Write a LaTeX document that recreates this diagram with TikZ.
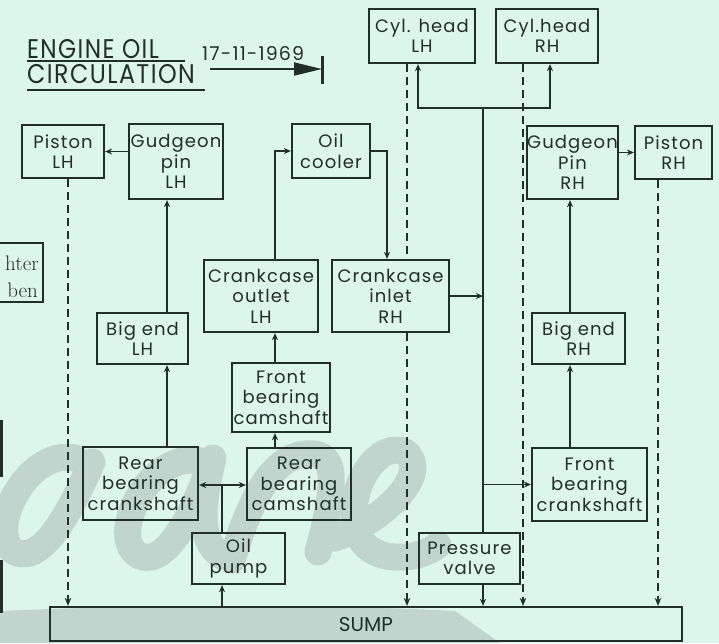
\documentclass[tikz,border=0pt]{standalone}
\usepackage{fontspec}
\usepackage{graphicx}
\setmainfont{Poppins}[LetterSpace=6]
\newfontfamily\serifpart{Latin Modern Roman}
\usetikzlibrary{arrows.meta}
\definecolor{bg}{RGB}{221,246,235}
\definecolor{ink}{RGB}{34,46,41}
\definecolor{wm}{RGB}{193,213,206}
\tikzset{
  box/.style={draw=ink, line width=2.2pt, text=ink, align=center, inner sep=0pt,
    font=\fontsize{18}{20.5}\selectfont},
  conn/.style={draw=ink, line width=1.8pt},
  arr/.style={conn, -{Stealth[length=7pt,width=6pt]}},
  dashline/.style={draw=ink, line width=2.5pt, dash pattern=on 8pt off 5pt},
  dasharr/.style={dashline, -{Stealth[length=8pt,width=6.5pt]}},
  wmstroke/.style={draw=wm, line width=27pt, line cap=round, line join=round},
}
\begin{document}
\begin{tikzpicture}[x=1pt,y=-1pt]
\useasboundingbox (0,0) rectangle (719,643);
\fill[bg] (0,0) rectangle (719,643);

% watermark (grey brush lettering behind the drawing)
\fill[wm] (0,611) .. controls (150,604) and (350,605) .. (455,611) -- (500,643) -- (0,643) -- cycle;
\draw[wmstroke] (75,458) .. controls (25,448) and (-15,535) .. (15,552) .. controls (45,566) and (75,500) .. (92,462);
\draw[wmstroke] (205,462) .. controls (150,445) and (105,540) .. (140,556) .. controls (170,568) and (198,500) .. (213,458) .. controls (203,500) and (196,540) .. (222,556);
\draw[wmstroke] (232,560) .. controls (250,500) and (270,462) .. (300,455) .. controls (335,448) and (340,470) .. (318,552);
\draw[wmstroke] (335,538) .. controls (385,520) and (432,472) .. (405,452) .. controls (375,438) and (340,500) .. (360,538) .. controls (375,565) and (420,560) .. (438,545);

% helper coordinates for connector columns
\coordinate (cL) at (167,0);
\coordinate (cM) at (275,0);
\coordinate (cJ) at (222,485);
\coordinate (cI) at (387,0);
\coordinate (cMain) at (483,0);
\coordinate (cTop) at (483,108);
\coordinate (cHL) at (418,0);
\coordinate (cHR) at (550,0);
\coordinate (cR) at (570,0);
\coordinate (dPL) at (68,0);
\coordinate (dCL) at (407,0);
\coordinate (dCR) at (523,0);
\coordinate (dPR) at (658,0);

% title
\node[anchor=base west, text=ink, inner sep=0pt] (title1) at (27,58)
  {\scalebox{0.86}[1]{\fontsize{27}{27}\selectfont ENGINE OIL}};
\node[anchor=base west, text=ink, inner sep=0pt] (title2) at (27,83)
  {\scalebox{0.88}[1]{\fontsize{27}{27}\selectfont CIRCULATION}};
\draw[ink, line width=2.4pt] (title1.south west |- 0,61) -- (185,61);
\draw[ink, line width=2.4pt] (title2.south west |- 0,90) -- (205,90);
\node[anchor=base west, text=ink, inner sep=0pt] (date) at (202,60)
  {\fontsize{19}{19}\selectfont 17-11-1969};
\coordinate (da) at (210,69);
\coordinate (db) at (322,69);
\draw[ink, line width=1.8pt, -{Triangle[length=28pt,width=13pt]}] (da) -- (db);
\draw[ink, line width=3pt] (db |- 0,56) -- (db |- 0,84);

% partial box at left edge
\node[draw=ink, line width=2.2pt, minimum width=80pt, minimum height=59pt, inner sep=0pt] (lbox) at (3,272.5) {};
\node[anchor=base east, text=ink, inner sep=0pt, font=\serifpart\fontsize{21}{21}\selectfont] (lt1) at (39,270) {hter};
\node[anchor=base east, text=ink, inner sep=0pt, font=\serifpart\fontsize{21}{21}\selectfont] (lt2) at (38,297) {ben};
\coordinate (eb1) at (1,420);
\coordinate (eb2) at (1,477);
\coordinate (eb3) at (1,560);
\coordinate (eb4) at (1,613);
\draw[ink, line width=3pt] (eb1) -- (eb2);
\draw[ink, line width=3pt] (eb3) -- (eb4);

% sump
\node[box, minimum width=632pt, minimum height=34pt, font=\fontsize{20}{20}\selectfont\addfontfeatures{LetterSpace=0}] (sump) at (366,624) {SUMP};

% boxes
\node[box, minimum width=82pt, minimum height=53pt] (pistonL) at (63,151.5) {Piston\\LH};
\node[box, minimum width=94pt, minimum height=75pt] (gudL) at (176,161.5) {Gudgeon\\pin\\LH};
\node[box, minimum width=78pt, minimum height=54pt] (cooler) at (331,151) {Oil\\cooler};
\node[box, minimum width=106pt, minimum height=54pt] (cylL) at (422,36) {Cyl. head\\LH};
\node[box, minimum width=102pt, minimum height=54pt] (cylR) at (547,36) {Cyl.head\\RH};
\node[box, minimum width=91pt, minimum height=73pt] (gudR) at (572.5,162.5) {Gudgeon\\Pin\\RH};
\node[box, minimum width=77pt, minimum height=53pt] (pistonR) at (673.5,152.5) {Piston\\RH};
\node[box, minimum width=114pt, minimum height=72pt] (ccOut) at (261,296) {Crankcase\\outlet\\LH};
\node[box, minimum width=117pt, minimum height=72pt] (ccIn) at (390.5,296) {Crankcase\\inlet\\RH};
\node[box, minimum width=91pt, minimum height=51pt] (bigL) at (142.5,338.5) {Big end\\LH};
\node[box, minimum width=93pt, minimum height=51pt] (bigR) at (578.5,338.5) {Big end\\RH};
\node[box, minimum width=98pt, minimum height=69pt] (frontCam) at (281,397.5) {Front\\bearing\\camshaft};
\node[box, minimum width=115pt, minimum height=73pt] (rearCrank) at (140.5,483.5) {Rear\\bearing\\crankshaft};
\node[box, minimum width=104pt, minimum height=72pt] (rearCam) at (299,484) {Rear\\bearing\\camshaft};
\node[box, minimum width=115pt, minimum height=73pt] (frontCrank) at (589.5,484.5) {Front\\bearing\\crankshaft};
\node[box, minimum width=93pt, minimum height=51pt] (pump) at (238.5,558.5) {Oil\\pump};
\node[box, minimum width=101pt, minimum height=51pt] (pvalve) at (469.5,558.5) {Pressure\\valve};

% dashed return lines
\draw[dasharr] (pistonL.south -| dPL) -- (sump.north -| dPL);
\draw[dashline] (cylL.south -| dCL) -- (ccIn.north -| dCL);
\draw[dasharr] (ccIn.south -| dCL) -- (sump.north -| dCL);
\draw[dasharr] (cylR.south -| dCR) -- (sump.north -| dCR);
\draw[dasharr] (pistonR.south -| dPR) -- (sump.north -| dPR);

% connectors
\draw[arr] (gudL.west |- pistonL.east) -- (pistonL.east);
\draw[arr] (gudR.east |- pistonR.west) -- (pistonR.west);
\draw[arr] (rearCrank.north -| cL) -- (bigL.south -| cL);
\draw[arr] (bigL.north -| cL) -- (gudL.south -| cL);
\draw[arr] (rearCam.north -| cM) -- (frontCam.south -| cM);
\draw[arr] (frontCam.north -| cM) -- (ccOut.south -| cM);
\draw[arr] (ccOut.north -| cM) |- (cooler.west);
\draw[arr] (cooler.east) -| (ccIn.north -| cI);
\draw[arr] (ccIn.east) -- (ccIn.east -| cMain);
\draw[conn] (cTop) -- (pvalve.north -| cMain);
\draw[arr] (cTop) -| (cylL.south -| cHL);
\draw[arr] (cTop) -| (cylR.south -| cHR);
\draw[arr] (frontCrank.west -| cMain) -- (frontCrank.west);
\draw[arr] (frontCrank.north -| cR) -- (bigR.south -| cR);
\draw[arr] (bigR.north -| cR) -- (gudR.south -| cR);
\draw[arr] (pvalve.south -| cMain) -- (sump.north -| cMain);
\draw[conn] (pump.north -| cJ) -- (cJ);
\draw[arr] (cJ) -- (cJ -| rearCrank.east);
\draw[arr] (cJ) -- (cJ -| rearCam.west);
\draw[arr] (sump.north -| cJ) -- (pump.south -| cJ);
\end{tikzpicture}
\end{document}
